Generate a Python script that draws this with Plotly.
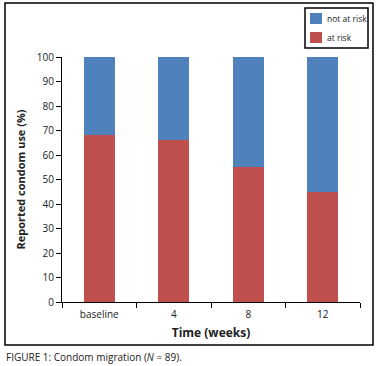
import plotly.graph_objects as go

categories = ["baseline", "4", "8", "12"]
at_risk = [68, 66, 55, 45]
not_at_risk = [32, 34, 45, 55]
y_ticks = [0, 10, 20, 30, 40, 50, 60, 70, 80, 90, 100]
series_names = ["not at risk", "at risk"]

BLUE = "#4F81BD"
RED = "#C0504D"
FONT = "Open Sans"

fig = go.Figure()
fig.add_trace(go.Bar(x=categories, y=at_risk, name=series_names[1],
                     marker=dict(color=RED, line=dict(width=0)), width=0.42))
fig.add_trace(go.Bar(x=categories, y=not_at_risk, name=series_names[0],
                     marker=dict(color=BLUE, line=dict(width=0)), width=0.42))

L, R, T, B = 62, 360, 57, 302
W, H = 381, 366
pw, ph = R - L, B - T

def px(x):
    return (x - L) / pw

def py(y):
    return (B - y) / ph

shapes = [
    dict(type="rect", xref="paper", yref="paper",
         x0=px(5), x1=px(373), y0=py(345), y1=py(3),
         line=dict(color="black", width=1.5), fillcolor="rgba(0,0,0,0)", layer="below"),
    # legend box
    dict(type="rect", xref="paper", yref="paper",
         x0=px(305), x1=px(368), y0=py(48), y1=py(8),
         line=dict(color="black", width=1.5), fillcolor="white", layer="above"),
]
annotations = []
for i, (name, col) in enumerate(zip(series_names, [BLUE, RED])):
    top = 13 + i * 19
    shapes.append(dict(type="rect", xref="paper", yref="paper",
                       x0=px(310), x1=px(322), y0=py(top + 11), y1=py(top),
                       line=dict(width=0), fillcolor=col, layer="above"))
    annotations.append(dict(xref="paper", yref="paper", x=px(325), y=py(top + 5.5),
                            xanchor="left", yanchor="middle", showarrow=False,
                            text=name, font=dict(size=8.5, color="#222")))

annotations.append(dict(xref="paper", yref="paper", x=px(4), y=py(357),
                        xanchor="left", yanchor="middle", showarrow=False,
                        text="FIGURE 1: Condom migration (<i>N</i> = 89).",
                        font=dict(size=10, color="#222")))

fig.update_layout(
    width=W, height=H,
    margin=dict(l=L, r=W - R, t=T, b=H - B, pad=0, autoexpand=False),
    barmode="stack",
    plot_bgcolor="white", paper_bgcolor="white",
    font=dict(family=FONT, size=10, color="#222"),
    showlegend=False,
    xaxis=dict(showline=True, linecolor="black", linewidth=1, automargin=False,
               ticks="outside", tickson="boundaries", ticklen=5,
               tickcolor="black", showgrid=False, ticklabelstandoff=3,
               title=dict(text="<b>Time (weeks)</b>", font=dict(size=12, color="#222"), standoff=8)),
    yaxis=dict(range=[0, 100], tickvals=y_ticks, showline=True, linecolor="black",
               linewidth=1, ticks="outside", ticklen=5, tickcolor="black", automargin=False,
               showgrid=False, zeroline=False,
               title=dict(text="<b>Reported condom use (%)</b>", font=dict(size=11, color="#222"), standoff=8)),
    shapes=shapes,
    annotations=annotations,
)

fig.write_html("out.html", config={"displayModeBar": False},
               post_script="document.body.style.margin='0';")
